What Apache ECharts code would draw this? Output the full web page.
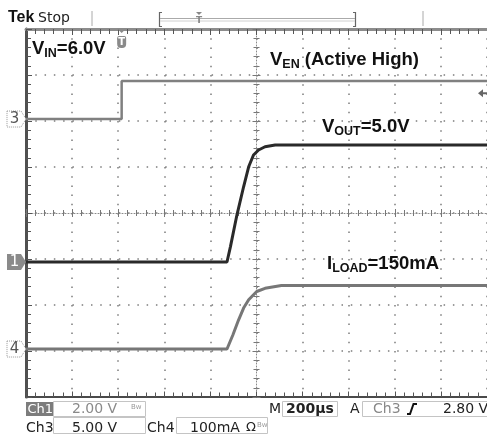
<!DOCTYPE html>
<html><head><meta charset="utf-8">
<script src="https://cdn.jsdelivr.net/npm/echarts@6/dist/echarts.min.js"></script>
<style>html,body{margin:0;padding:0;background:#fff}#c{width:487px;height:438px}</style>
</head><body><div id="c"></div>
<script>
// ---- data (time in µs relative to screen centre, 200 µs/div) ----
const timeMin = -1000, timeMax = 1000, timeStep = 200;
// Ch3 : V_EN (V)
const venTime  = [-1000, -585, -585, 1000];
const venVolts = [0.0, 0.0, 4.13, 4.13];
// Ch1 : V_OUT (V)
const voutTime  = [-1000, -128, -113, -85, -56, -34, -13, 9, 37, 81, 1000];
const voutVolts = [0.0, 0.0, 0.67, 2.04, 3.27, 4.14, 4.65, 4.87, 5.01, 5.09, 5.09];
// Ch4 : I_LOAD (mA)
const iloadTime = [-1000, -128, -103, -78, -56, -34, 1, 37, 108, 1000];
const iloadMA   = [0, 0, 30, 63, 89, 107, 125, 132, 138, 138];
// trigger
const trigTime = -585, trigLevel = 2.80;
// channel settings: units per division and ground offset (divisions from centre)
const ch1 = {perDiv: 2, offset: -1.065};
const ch3 = {perDiv: 5, offset: 2.043};
const ch4 = {perDiv: 100, offset: -2.957};

const pairs = (xs, ys) => xs.map((x, i) => [x, ys[i]]);
const chAxis = c => ({type: 'value', show: false, min: (-4 - c.offset) * c.perDiv, max: (4 - c.offset) * c.perDiv});

const chart = echarts.init(document.getElementById('c'));
const tickCol = '#555';
const dotCol = '#7c7c7c';
const baseX = {type: 'value', min: timeMin, max: timeMax, interval: timeStep, axisLabel: {show: false}, splitLine: {show: false}};
const baseY = {type: 'value', min: -4, max: 4, interval: 1, axisLabel: {show: false}, splitLine: {show: false}};
const tk = (inside, len, mlen, col) => ({axisTick: {show: true, inside: inside, length: len, lineStyle: {color: col || tickCol, width: 1}},
  minorTick: {show: true, splitNumber: 5, length: mlen, lineStyle: {color: col || tickCol, width: 1}}});

chart.setOption({
  animation: false,
  grid: {left: 26, top: 29, width: 464, height: 368, containLabel: false},
  xAxis: [
    Object.assign({}, baseX, tk(true, 5.5, 4.5), {position: 'bottom', axisLine: {onZero: false, lineStyle: {color: '#4a4a4a', width: 2}},
      splitLine: {show: true, lineStyle: {color: dotCol, width: 1.5, type: [1.5, 7.7]}}}),
    Object.assign({}, baseX, tk(true, 6, 5), {position: 'top', axisLine: {onZero: false, lineStyle: {color: '#8c8c8c', width: 3}}}),
    Object.assign({}, baseX, tk(true, 4, 3, '#777'), {position: 'bottom', axisLine: {onZero: true, onZeroAxisIndex: 0, lineStyle: {color: '#8a8a8a', width: 1, type: [1, 2]}}}),
    Object.assign({}, baseX, tk(false, 4, 3, '#777'), {position: 'bottom', axisLine: {onZero: true, onZeroAxisIndex: 0, lineStyle: {opacity: 0}}})
  ],
  yAxis: [
    Object.assign({}, baseY, tk(true, 6, 5), {position: 'left', axisLine: {onZero: false, lineStyle: {color: '#505050', width: 3}},
      splitLine: {show: true, lineStyle: {color: dotCol, width: 1.5, type: [1.5, 7.78]}}}),
    Object.assign({}, baseY, tk(true, 4, 3, '#777'), {position: 'left', axisLine: {onZero: true, onZeroAxisIndex: 0, lineStyle: {color: '#8a8a8a', width: 1, type: [1, 2]}}}),
    Object.assign({}, baseY, tk(false, 4, 3, '#777'), {position: 'left', axisLine: {onZero: true, onZeroAxisIndex: 0, lineStyle: {opacity: 0}}}),
    chAxis(ch1), chAxis(ch3), chAxis(ch4)
  ],
  series: [
    {type: 'line', name: 'VEN', xAxisIndex: 0, yAxisIndex: 4, data: pairs(venTime, venVolts), symbol: 'none',
      lineStyle: {color: '#808080', width: 2.5}, z: 3},
    {type: 'line', name: 'ILOAD', xAxisIndex: 0, yAxisIndex: 5, data: pairs(iloadTime, iloadMA), symbol: 'none',
      lineStyle: {color: '#777', width: 3}, z: 3},
    {type: 'line', name: 'VOUT', xAxisIndex: 0, yAxisIndex: 3, data: pairs(voutTime, voutVolts), symbol: 'none',
      lineStyle: {color: '#2a2a2a', width: 3}, z: 4}
  ]
});

const px = (t, v, yi) => chart.convertToPixel({xAxisIndex: 0, yAxisIndex: yi}, [t, v]);
const uiFont = '"DejaVu Sans", sans-serif';
const annFont = '"Liberation Sans", Arial, sans-serif';
function txt(x, y, s, font, fill, align, extra) {
  return Object.assign({type: 'text', x: x, y: y, z: 100, style: {text: s, font: font, fill: fill || '#222',
    align: align || 'left', verticalAlign: 'middle', textAlign: align || 'left', textVerticalAlign: 'middle'}}, extra || {});
}
function line(x1, y1, x2, y2, col, w) {
  return {type: 'line', z: 100, shape: {x1: x1, y1: y1, x2: x2, y2: y2}, style: {stroke: col, lineWidth: w || 1}};
}
function box(x, y, w, h) {
  return {type: 'rect', z: 99, shape: {x: x, y: y, width: w, height: h}, style: {fill: 'none', stroke: '#c4c4c4', lineWidth: 1}};
}
function chMarker(label, yPix, filled) {
  return {type: 'group', x: 26, y: yPix, z: 100, children: [
    {type: 'polygon', z: 100, shape: {points: [[-19, -8], [-5, -8], [0, 0], [-5, 8], [-19, 8]]},
      style: filled ? {fill: '#8a8a8a'} : {fill: '#fff', stroke: '#999', lineWidth: 1, lineDash: [1, 1]}},
    {type: 'text', z: 101, x: -11.5, y: 0.5, style: {text: label, font: '15px ' + uiFont, fill: filled ? '#fff' : '#555',
      align: 'center', verticalAlign: 'middle', textAlign: 'center', textVerticalAlign: 'middle'}}
  ]};
}
function rich(x, y, s) {
  return {type: 'text', x: x, y: y, z: 100, style: {text: s, fill: '#111', align: 'left', verticalAlign: 'top',
    rich: {a: {fontSize: 18.5, fontWeight: 'bold', fontFamily: annFont, fill: '#111'},
           s: {fontSize: 12.5, fontWeight: 'bold', fontFamily: annFont, fill: '#111', padding: [9, 0, 0, 0]}}}};
}

const tx = px(trigTime, 0, 0)[0];
const ty = px(timeMax, trigLevel, 4)[1];
const g = [
  // header
  {type: 'text', x: 8, y: 18, z: 100, style: {text: 'Tek', font: 'bold 16px ' + annFont, fill: '#111', letterSpacing: -1, verticalAlign: 'middle', textVerticalAlign: 'middle'}},
  txt(38, 18, 'Stop', '14px ' + uiFont, '#222'),
  line(92, 11, 92, 26, '#aaa', 1),
  {type: 'polyline', z: 100, shape: {points: [[162, 12.5], [159.5, 12.5], [159.5, 26.5], [162, 26.5]]}, style: {stroke: '#666', lineWidth: 1.2, fill: 'none'}},
  {type: 'polyline', z: 100, shape: {points: [[353, 12.5], [355.5, 12.5], [355.5, 26.5], [353, 26.5]]}, style: {stroke: '#666', lineWidth: 1.2, fill: 'none'}},
  line(160, 18.5, 355, 18.5, '#aaa', 1),
  line(160, 21, 355, 21, '#d0d0d0', 1),
  {type: 'polygon', z: 101, shape: {points: [[196, 12], [202, 12], [199, 15]]}, style: {fill: '#888'}},
  txt(199, 21, 'T', 'bold 9px ' + uiFont, '#888', 'center'),
  line(423, 11, 423, 26, '#aaa', 1),
  // trigger position marker
  {type: 'group', x: tx, y: 29, z: 100, children: [
    {type: 'polygon', z: 100, shape: {points: [[-5, -1], [5, -1], [0, 4]]}, style: {fill: '#8a8a8a'}},
    {type: 'rect', z: 100, shape: {x: -4.5, y: 7, width: 9, height: 12, r: [2, 2, 4, 4]}, style: {fill: '#8a8a8a'}},
    {type: 'text', z: 101, x: 0, y: 13, style: {text: 'T', font: 'bold 10px ' + uiFont, fill: '#fff', align: 'center', verticalAlign: 'middle', textAlign: 'center', textVerticalAlign: 'middle'}}
  ]},
  // trigger level arrow
  {type: 'polygon', z: 100, shape: {points: [[478, ty], [483, ty - 4], [483, ty + 4]]}, style: {fill: '#666'}},
  line(482, ty, 488, ty, '#666', 2),
  // channel ground markers
  chMarker('3', px(timeMin, 0, 4)[1], false),
  chMarker('1', px(timeMin, 0, 3)[1], true),
  chMarker('4', px(timeMin, 0, 5)[1], false),
  // annotations
  rich(32, 38, '{a|V}{s|IN}{a|=6.0V}'),
  rich(270, 49, '{a|V}{s|EN}{a| (Active High)}'),
  rich(322, 116, '{a|V}{s|OUT}{a|=5.0V}'),
  rich(327, 253, '{a|I}{s|LOAD}{a|=150mA}'),
  // status bar row 1
  {type: 'rect', z: 99, shape: {x: 26, y: 402, width: 27, height: 14}, style: {fill: '#7c7c7c'}},
  txt(27.5, 409.5, 'Ch1', '13px ' + uiFont, '#fff'),
  box(53.5, 401.5, 92, 15),
  txt(72, 409.5, '2.00 V', '14px ' + uiFont, '#8a8a8a'),
  txt(131, 407, 'Bw', '7px ' + uiFont, '#999'),
  txt(269, 409.5, 'M', '14px ' + uiFont, '#222'),
  box(282.5, 401.5, 55, 15),
  txt(286, 409.5, '200µs', 'bold 14px ' + uiFont, '#222'),
  txt(350, 409.5, 'A', '14px ' + uiFont, '#222'),
  box(362.5, 401.5, 130, 15),
  txt(373, 409.5, 'Ch3', '14px ' + uiFont, '#888'),
  {type: 'polyline', z: 100, shape: {points: [[407, 414], [410, 414], [413.5, 404], [417, 404]]}, style: {stroke: '#111', lineWidth: 2, fill: 'none'}},
  txt(443, 409.5, '2.80 V', '14px ' + uiFont, '#222'),
  // status bar row 2
  txt(26, 428, 'Ch3', '14px ' + uiFont, '#222'),
  box(53.5, 417.5, 92, 16),
  txt(72, 428, '5.00 V', '14px ' + uiFont, '#222'),
  txt(147, 428, 'Ch4', '14px ' + uiFont, '#222'),
  box(176.5, 417.5, 91, 16),
  txt(190, 428, '100mA', '14px ' + uiFont, '#222'),
  txt(246, 428, 'Ω', '13px ' + uiFont, '#222'),
  txt(257, 425, 'Bw', '7px ' + uiFont, '#999')
];
chart.setOption({graphic: g});
</script></body></html>
